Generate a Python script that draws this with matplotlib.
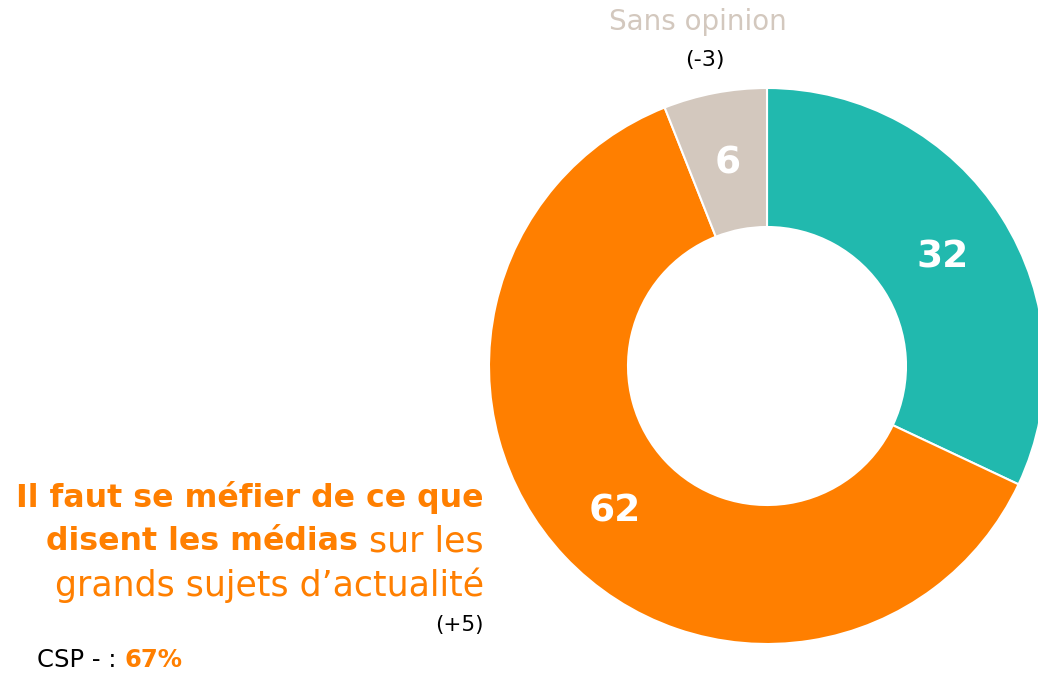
import matplotlib
matplotlib.use("Agg")
import matplotlib.pyplot as plt
import numpy as np

# data
categories = ["D'accord", "Il faut se méfier", "Sans opinion"]
values = [32, 62, 6]
colors = ["#21B9AE", "#FF7F00", "#D3C8BE"]
evolution = ["", "(+5)", "(-3)"]
csp_value = "67%"

ORANGE = "#FF7F00"
BEIGE = "#D3C8BE"
FONT = "DejaVu Sans"

W, H = 1038, 674
fig = plt.figure(figsize=(W / 100, H / 100), dpi=100)

# donut axes: centre (767, 366) px, radius 278 px
cx, cy, r = 767, 366, 278
ax = fig.add_axes([(cx - r) / W, (H - cy - r) / H, 2 * r / W, 2 * r / H])
wedges, _ = ax.pie(values, colors=colors, startangle=90, counterclock=False,
                   radius=1, wedgeprops=dict(width=0.5, edgecolor="white", linewidth=1.5))
ax.set_xlim(-1, 1)
ax.set_ylim(-1, 1)
ax.set_aspect("equal")
ax.axis("off")

for v, w in zip(values, wedges):
    mid = np.deg2rad((w.theta1 + w.theta2) / 2)
    ax.text(0.75 * np.cos(mid), 0.75 * np.sin(mid) - 0.01, str(v), ha="center", va="center",
            color="white", fontsize=27, fontweight="bold", family=FONT)

# top label
fig.text(698 / W, 1 - 22 / H, "Sans opinion", ha="center", va="center",
         color=BEIGE, fontsize=20, family=FONT)
fig.text(705 / W, 1 - 60 / H, evolution[2], ha="center", va="center",
         color="black", fontsize=16, family=FONT)

# left label, right aligned at x=484
fig.canvas.draw()
renderer = fig.canvas.get_renderer()
xr = 484 / W
fs_b, fs_r = 22.8, 25
fig.text(xr, 1 - 497 / H, "Il faut se méfier de ce que", ha="right", va="center",
         color=ORANGE, fontsize=fs_b, fontweight="bold", family=FONT)
t2 = fig.text(xr, 1 - 541 / H, " sur les", ha="right", va="center",
              color=ORANGE, fontsize=fs_r, family=FONT)
bb = t2.get_window_extent(renderer)
fig.text(bb.x0 / W, 1 - 541 / H, "disent les médias", ha="right", va="center",
         color=ORANGE, fontsize=fs_b, fontweight="bold", family=FONT)
fig.text(xr, 1 - 585 / H, "grands sujets d\u2019actualité", ha="right", va="center",
         color=ORANGE, fontsize=fs_r, family=FONT)
fig.text(xr, 1 - 625 / H, evolution[1], ha="right", va="center",
         color="black", fontsize=15.5, family=FONT)

t3 = fig.text(37 / W, 1 - 660 / H, "CSP - : ", ha="left", va="center",
              color="black", fontsize=17.5, family=FONT)
bb = t3.get_window_extent(renderer)
fig.text(bb.x1 / W, 1 - 660 / H, csp_value, ha="left", va="center",
         color=ORANGE, fontsize=17.5, fontweight="bold", family=FONT)

fig.savefig("out.png", dpi=100)
